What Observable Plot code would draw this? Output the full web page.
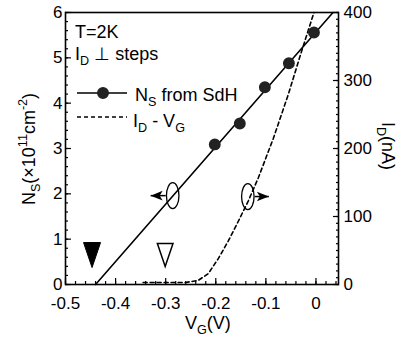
<!DOCTYPE html>
<html><head><meta charset="utf-8">
<script src="https://cdn.jsdelivr.net/npm/d3@7"></script>
<script src="https://cdn.jsdelivr.net/npm/@observablehq/plot@0.6"></script>
<style>html,body{margin:0;padding:0;background:#fff} svg{display:block}</style>
</head><body><div id="chart"></div>
<script>
// ---- data ----
const sdhVg = [-0.202, -0.152, -0.102, -0.054, -0.004];
const sdhNs = [3.09, 3.55, 4.35, 4.88, 5.56];
const fitVg = [-0.44, 0.034];
const fitNs = [0, 6];
const ivVg = [-0.345, -0.26, -0.235, -0.215, -0.195, -0.175, -0.155, -0.135, -0.115, -0.085, -0.055, -0.03, -0.004];
const ivId = [3, 3, 6, 16, 38, 64, 93, 123, 157, 215, 280, 340, 400];
const xTicks = [-0.5, -0.4, -0.3, -0.2, -0.1, 0];
const nsTicks = [0, 1, 2, 3, 4, 5, 6];
const idTicks = [0, 100, 200, 300, 400];
const filledTriVg = [-0.447], openTriVg = [-0.301], triNs = [0.65];
const ringVg = [-0.286, -0.136], ringNs = [1.96, 1.94];
const arrowTailVg = [-0.3, -0.122], arrowTipVg = [-0.33, -0.094];

const NS_MAX = 6, ID_MAX = 400;
const idToNs = v => v * NS_MAX / ID_MAX;
const minorX = d3.range(0, 28).map(i => +(-0.5 + i * 0.02).toFixed(3));
const minorY = d3.range(0, 31).map(i => +(i * 0.2).toFixed(2));
const minorR = d3.range(0, 41).map(i => idToNs(i * 10));

// custom symbols
const triDown = {draw(c, size) { const r = Math.sqrt(size / Math.PI); const w = r * 0.68;
  c.moveTo(-w, -r); c.lineTo(w, -r); c.lineTo(0, r); c.closePath(); }};
const ellipseSym = {draw(c, size) { const r = Math.sqrt(size / Math.PI); const rx = r * 0.48, ry = r, k = 0.5523;
  c.moveTo(rx, 0); c.bezierCurveTo(rx, ry * k, rx * k, ry, 0, ry); c.bezierCurveTo(-rx * k, ry, -rx, ry * k, -rx, 0);
  c.bezierCurveTo(-rx, -ry * k, -rx * k, -ry, 0, -ry); c.bezierCurveTo(rx * k, -ry, rx, -ry * k, rx, 0); c.closePath(); }};
const headLeft = {draw(c, size) { const r = Math.sqrt(size / Math.PI);
  c.moveTo(0, 0); c.lineTo(r, -r * 0.4); c.lineTo(r * 0.75, 0); c.lineTo(r, r * 0.4); c.closePath(); }};
const headRight = {draw(c, size) { const r = Math.sqrt(size / Math.PI);
  c.moveTo(0, 0); c.lineTo(-r, -r * 0.4); c.lineTo(-r * 0.75, 0); c.lineTo(-r, r * 0.4); c.closePath(); }};

const FONT = "'Liberation Sans', Arial, Helvetica, sans-serif";
const idx = n => d3.range(n);

const plot = Plot.plot({
  width: 399, height: 337,
  marginLeft: 65, marginRight: 61, marginTop: 12, marginBottom: 53,
  style: {fontFamily: FONT, fontSize: "17px", background: "white", color: "black", overflow: "visible"},
  x: {domain: [-0.5, 0.045]},
  y: {domain: [0, NS_MAX]},
  marks: [
    Plot.axisX(minorX, {tickSize: -3, fill: "none", label: null, strokeWidth: 1.2}),
    Plot.axisX(xTicks, {tickSize: -6, tickPadding: 18.5, strokeWidth: 1.2, tickFormat: d => d === 0 ? "0" : d.toFixed(1), label: null}),
    Plot.axisY(minorY, {tickSize: -3, fill: "none", label: null, strokeWidth: 1.2}),
    Plot.axisY(nsTicks, {tickSize: -6, tickPadding: 9, strokeWidth: 1.2, tickFormat: d => String(d), label: null}),
    Plot.axisY(minorR, {anchor: "right", tickSize: -3, fill: "none", label: null, strokeWidth: 1.2}),
    Plot.axisY(idTicks.map(idToNs), {anchor: "right", tickSize: -6, tickPadding: 11, strokeWidth: 1.2,
      tickFormat: d => String(Math.round(d * ID_MAX / NS_MAX)), label: null}),
    Plot.frame({strokeWidth: 1.6}),
    Plot.line(idx(ivVg.length), {x: i => ivVg[i], y: i => idToNs(ivId[i]), strokeWidth: 1.6, strokeDasharray: "4,3"}),
    Plot.line(idx(fitVg.length), {x: i => fitVg[i], y: i => fitNs[i], strokeWidth: 1.6}),
    Plot.dot(idx(sdhVg.length), {x: i => sdhVg[i], y: i => sdhNs[i], r: 5.2, fill: "#222", stroke: "#222"}),
    Plot.dot(idx(1), {x: i => filledTriVg[i], y: i => triNs[i], r: 12.5, symbol: triDown, fill: "black", stroke: "black", strokeWidth: 1}),
    Plot.dot(idx(1), {x: i => openTriVg[i], y: i => triNs[i], r: 11.5, symbol: triDown, fill: "white", stroke: "black", strokeWidth: 1.5}),
    Plot.dot(idx(2), {x: i => ringVg[i], y: i => ringNs[i], r: 13, symbol: ellipseSym, fill: "none", stroke: "black", strokeWidth: 1.3}),
    Plot.link(idx(2), {x1: i => arrowTailVg[i], x2: i => arrowTipVg[i], y1: i => ringNs[i], y2: i => ringNs[i], strokeWidth: 1.5}),
    Plot.dot(idx(1), {x: i => arrowTipVg[0], y: i => ringNs[0], r: 12, symbol: headLeft, fill: "black", stroke: "none"}),
    Plot.dot(idx(1), {x: i => arrowTipVg[1], y: i => ringNs[1], r: 12, symbol: headRight, fill: "black", stroke: "none"})
  ]
});
document.getElementById("chart").appendChild(plot);

// ---- texts with sub/superscripts and the legend ----
const svg = d3.select(plot);
const g = svg.append("g").attr("font-family", FONT).attr("fill", "black").attr("text-anchor", "start");
function rich(x, y, parts, fs, opts = {}) {
  const t = g.append("text").attr("x", x).attr("y", y).attr("font-size", fs)
    .attr("text-anchor", opts.anchor || "start");
  if (opts.rotate != null) t.attr("transform", `rotate(${opts.rotate},${x},${y})`);
  let shift = 0;
  for (const [s, k] of parts) {
    const target = k === "sub" ? fs * (opts.sub || 0.3) : k === "sup" ? -fs * 0.42 : 0;
    t.append("tspan").attr("dy", target - shift).attr("font-size", k ? fs * 0.7 : fs).text(s);
    shift = target;
  }
  return t;
}
rich(75, 38, [["T=2K"]], 18);
rich(75, 60, [["I"], ["D", "sub"], [" \u22A5 steps"]], 18);
rich(135, 101, [["N"], ["S", "sub"], [" from SdH"]], 18);
rich(133, 127, [["I"], ["D", "sub"], [" - V"], ["G", "sub"]], 18);
rich(185, 329, [["V"], ["G", "sub"], ["(V)"]], 18, {sub: 0.25});
rich(35, 149, [["N"], ["S", "sub"], ["(\u00D710"], ["11", "sup"], ["cm"], ["-2", "sup"], [")"]], 18, {rotate: -90, anchor: "middle"});
rich(382, 146, [["I"], ["D", "sub"], ["(nA)"]], 18, {rotate: 90, anchor: "middle"});

// legend samples
const lg = svg.append("g").attr("stroke", "black").attr("stroke-width", 1.6);
lg.append("line").attr("x1", 77).attr("x2", 127).attr("y1", 93).attr("y2", 93);
lg.append("circle").attr("cx", 103).attr("cy", 93).attr("r", 5.2).attr("fill", "#222").attr("stroke", "#222");
lg.append("line").attr("x1", 77).attr("x2", 127).attr("y1", 117).attr("y2", 117).attr("stroke-dasharray", "4,3");
</script>
</body></html>
